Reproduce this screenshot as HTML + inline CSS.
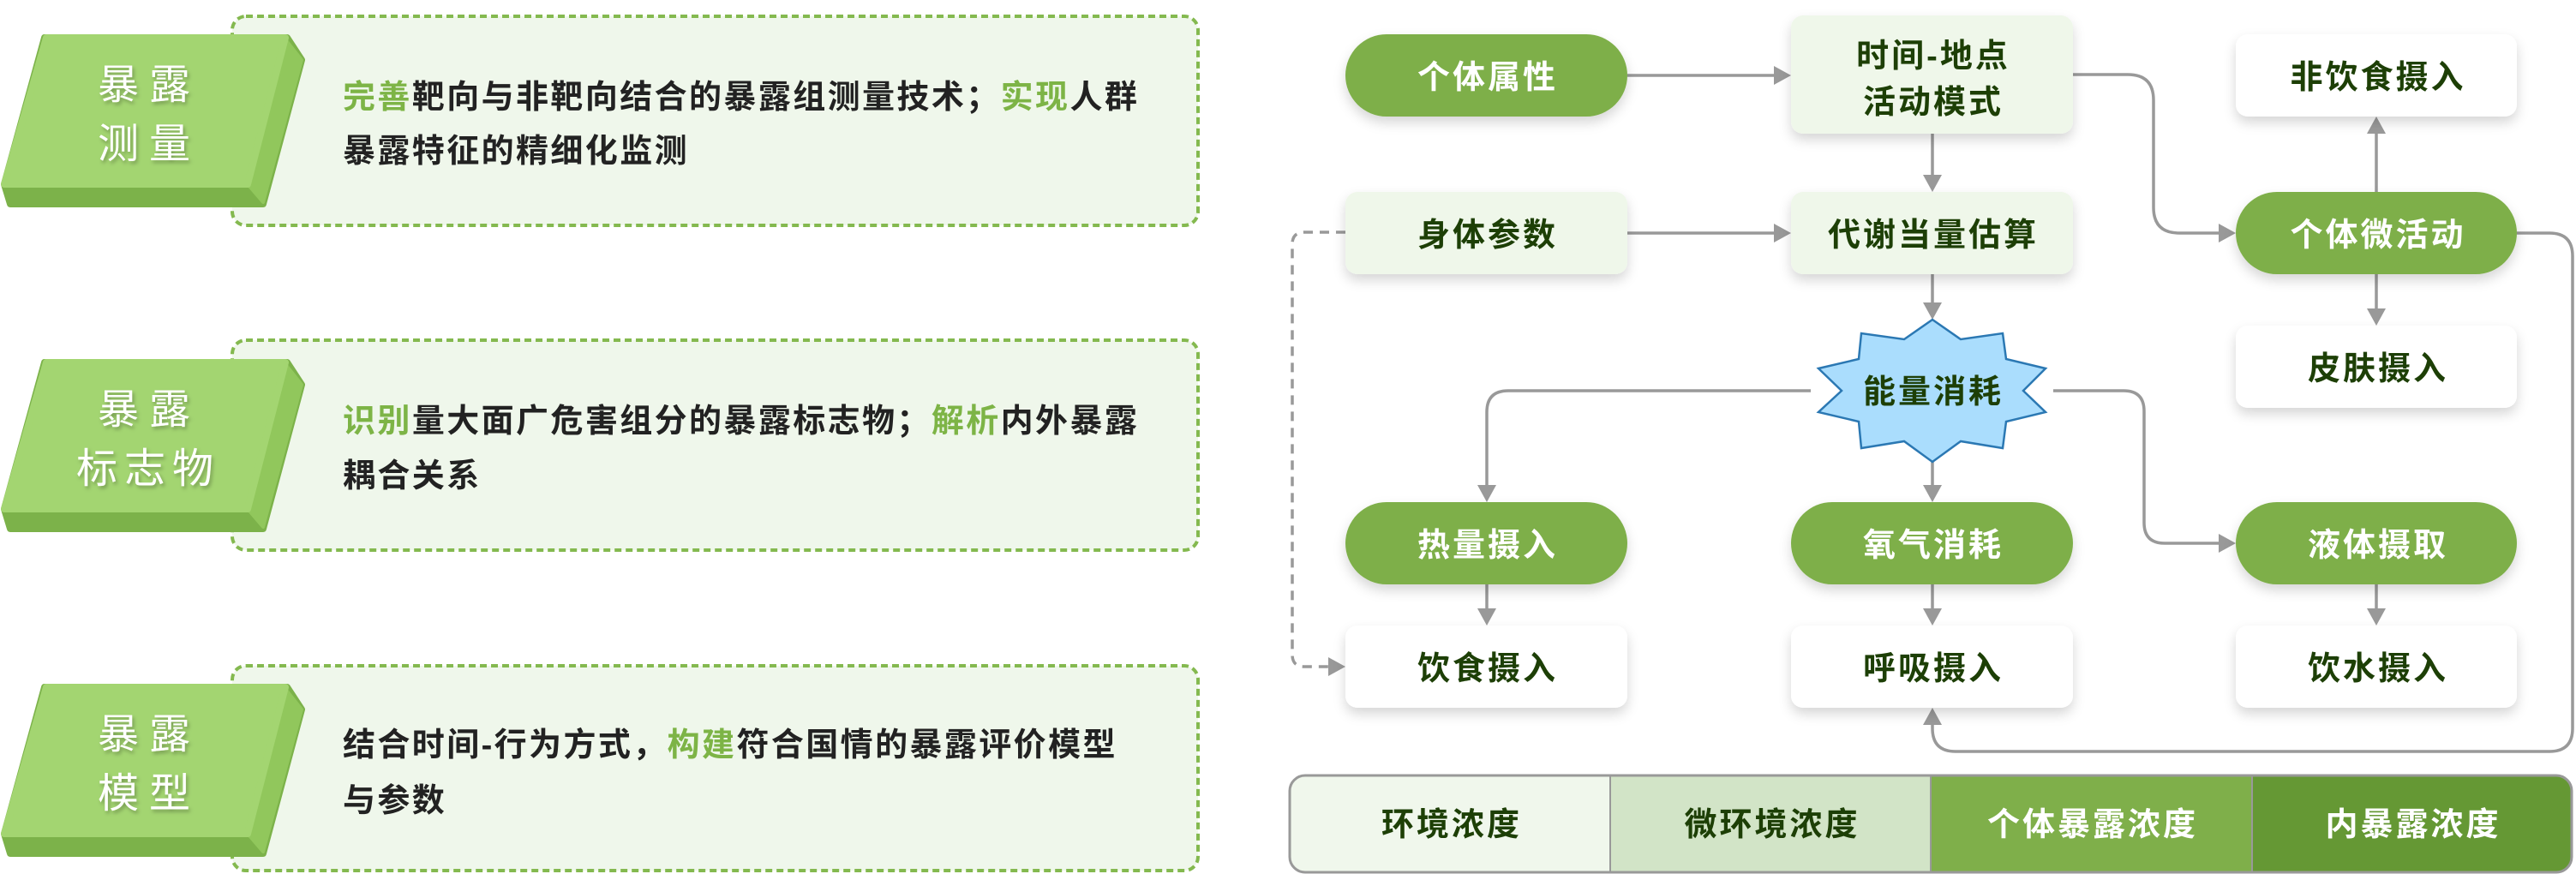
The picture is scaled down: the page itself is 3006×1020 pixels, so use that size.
<!DOCTYPE html>
<html>
<head>
<meta charset="utf-8">
<style>
  html, body { margin: 0; padding: 0; background: #ffffff; }
  body { width: 3006px; height: 1020px; overflow: hidden; }
  svg { display: block; }
  text { font-family: "Liberation Sans", "Noto Sans CJK SC", sans-serif; }
</style>
</head>
<body>
<svg width="3006" height="1020" viewBox="0 0 3006 1020" xmlns="http://www.w3.org/2000/svg">
  <defs>
    <filter id="nshadow" x="-20%" y="-30%" width="140%" height="180%">
      <feDropShadow dx="0" dy="7" stdDeviation="7" flood-color="#000" flood-opacity="0.16"/>
    </filter>
    <filter id="tshadow" x="-30%" y="-30%" width="160%" height="160%">
      <feDropShadow dx="2" dy="3" stdDeviation="2" flood-color="#000" flood-opacity="0.28"/>
    </filter>
    <clipPath id="barclip">
      <rect x="1505" y="905" width="1496" height="113" rx="18" ry="18"/>
    </clipPath>
  </defs>

  <!-- ============ LEFT PANELS ============ -->
  <!-- Panel 1 -->
  <rect x="271" y="19" width="1127" height="244" rx="16" ry="16" fill="#eff7eb" stroke="#84b94f" stroke-width="4" stroke-dasharray="8 5"/>
  <!-- Panel 2 -->
  <rect x="271" y="397" width="1127" height="245" rx="16" ry="16" fill="#eff7eb" stroke="#84b94f" stroke-width="4" stroke-dasharray="8 5"/>
  <!-- Panel 3 -->
  <rect x="271" y="777" width="1127" height="239" rx="16" ry="16" fill="#eff7eb" stroke="#84b94f" stroke-width="4" stroke-dasharray="8 5"/>

  <!-- Badge 1 (oy=44) -->
  <g stroke-linejoin="round">
    <polygon points="52,44 335,44 352,70 307,238 12,238 5,215" fill="#7cb24a" stroke="#7cb24a" stroke-width="8"/>
    <polygon points="333,46 352,70 307,236 289,215" fill="#91c75c" stroke="#91c75c" stroke-width="4"/>
    <polygon points="54,44 333,44 289,215 5,215" fill="#a3d571" stroke="#a3d571" stroke-width="8"/>
  </g>
  <g fill="#ffffff" font-size="48" text-anchor="middle" filter="url(#tshadow)">
    <text x="138" y="115">暴</text>
    <text x="198" y="115">露</text>
    <text x="138" y="184">测</text>
    <text x="198" y="184">量</text>
  </g>

  <!-- Badge 2 (oy=423) -->
  <g stroke-linejoin="round">
    <polygon points="52,423 335,423 352,449 307,617 12,617 5,594" fill="#7cb24a" stroke="#7cb24a" stroke-width="8"/>
    <polygon points="333,425 352,449 307,615 289,594" fill="#91c75c" stroke="#91c75c" stroke-width="4"/>
    <polygon points="54,423 333,423 289,594 5,594" fill="#a3d571" stroke="#a3d571" stroke-width="8"/>
  </g>
  <g fill="#ffffff" font-size="48" text-anchor="middle" filter="url(#tshadow)">
    <text x="138" y="494">暴</text>
    <text x="198" y="494">露</text>
    <text x="113" y="563">标</text>
    <text x="169" y="563">志</text>
    <text x="225" y="563">物</text>
  </g>

  <!-- Badge 3 (oy=802) -->
  <g stroke-linejoin="round">
    <polygon points="52,802 335,802 352,828 307,996 12,996 5,973" fill="#7cb24a" stroke="#7cb24a" stroke-width="8"/>
    <polygon points="333,804 352,828 307,994 289,973" fill="#91c75c" stroke="#91c75c" stroke-width="4"/>
    <polygon points="54,802 333,802 289,973 5,973" fill="#a3d571" stroke="#a3d571" stroke-width="8"/>
  </g>
  <g fill="#ffffff" font-size="48" text-anchor="middle" filter="url(#tshadow)">
    <text x="138" y="873">暴</text>
    <text x="198" y="873">露</text>
    <text x="138" y="942">模</text>
    <text x="198" y="942">型</text>
  </g>

  <!-- Description texts -->
  <g font-size="38" font-weight="bold" fill="#222222" letter-spacing="2.4">
    <text x="400" y="126"><tspan fill="#7db446">完善</tspan>靶向与非靶向结合的暴露组测量技术；<tspan fill="#7db446">实现</tspan>人群</text>
    <text x="400" y="189">暴露特征的精细化监测</text>
    <text x="400" y="504"><tspan fill="#7db446">识别</tspan>量大面广危害组分的暴露标志物；<tspan fill="#7db446">解析</tspan>内外暴露</text>
    <text x="400" y="568">耦合关系</text>
    <text x="400" y="882">结合时间-行为方式，<tspan fill="#7db446">构建</tspan>符合国情的暴露评价模型</text>
    <text x="400" y="947">与参数</text>
  </g>

  <!-- ============ FLOWCHART CONNECTORS ============ -->
  <g fill="none" stroke="#999999" stroke-width="3.5">
    <path d="M1899,88 H2072"/>
    <path d="M2255,156 V206"/>
    <path d="M1899,272 H2072"/>
    <path d="M2419,87 H2483 Q2513,87 2513,117 V242 Q2513,272 2543,272 H2591"/>
    <path d="M2773,224 V154"/>
    <path d="M2773,320 V362"/>
    <path d="M2255,320 V355"/>
    <path d="M2113,456 H1760 Q1735,456 1735,481 V568"/>
    <path d="M2396,456 H2478 Q2502,456 2502,480 V610 Q2502,634 2526,634 H2591"/>
    <path d="M2255,539 V568"/>
    <path d="M1735,682 V712"/>
    <path d="M2255,682 V712"/>
    <path d="M2773,682 V712"/>
    <path d="M2937,272 H2975 Q3002,272 3002,299 V850 Q3002,877 2975,877 H2282 Q2255,877 2255,850 V844"/>
    <path d="M1570,271 H1522 Q1508,271 1508,285 V764 Q1508,778 1522,778 H1552" stroke-dasharray="11 8"/>
  </g>
  <g fill="#999999">
    <polygon points="2070,77 2090,88 2070,99"/>
    <polygon points="2244,204 2255,224 2266,204"/>
    <polygon points="2070,261 2090,272 2070,283"/>
    <polygon points="2589,261 2609,272 2589,283"/>
    <polygon points="2762,156 2773,136 2784,156"/>
    <polygon points="2762,360 2773,380 2784,360"/>
    <polygon points="2244,353 2255,373 2266,353"/>
    <polygon points="1724,566 1735,586 1746,566"/>
    <polygon points="2589,623 2609,634 2589,645"/>
    <polygon points="2244,566 2255,586 2266,566"/>
    <polygon points="1724,710 1735,730 1746,710"/>
    <polygon points="2244,710 2255,730 2266,710"/>
    <polygon points="2762,710 2773,730 2784,710"/>
    <polygon points="2244,846 2255,826 2266,846"/>
    <polygon points="1550,767 1570,778 1550,789"/>
  </g>

  <!-- ============ FLOWCHART NODES ============ -->
  <g filter="url(#nshadow)">
    <!-- green pills -->
    <rect x="1570" y="40" width="329" height="96" rx="48" ry="48" fill="#7eaf4a"/>
    <rect x="2609" y="224" width="328" height="96" rx="48" ry="48" fill="#7eaf4a"/>
    <rect x="1570" y="586" width="329" height="96" rx="48" ry="48" fill="#7eaf4a"/>
    <rect x="2090" y="586" width="329" height="96" rx="48" ry="48" fill="#7eaf4a"/>
    <rect x="2609" y="586" width="328" height="96" rx="48" ry="48" fill="#7eaf4a"/>
    <!-- light boxes -->
    <rect x="2090" y="18" width="329" height="138" rx="14" ry="14" fill="#eff7ea"/>
    <rect x="1570" y="224" width="329" height="96" rx="14" ry="14" fill="#eff7ea"/>
    <rect x="2090" y="224" width="329" height="96" rx="14" ry="14" fill="#eff7ea"/>
    <!-- white boxes -->
    <rect x="2609" y="40" width="328" height="96" rx="14" ry="14" fill="#ffffff"/>
    <rect x="2609" y="380" width="328" height="96" rx="14" ry="14" fill="#ffffff"/>
    <rect x="1570" y="730" width="329" height="96" rx="14" ry="14" fill="#ffffff"/>
    <rect x="2090" y="730" width="329" height="96" rx="14" ry="14" fill="#ffffff"/>
    <rect x="2609" y="730" width="328" height="96" rx="14" ry="14" fill="#ffffff"/>
  </g>

  <!-- starburst -->
  <polygon points="2255,373 2288,396 2337,389 2341,419 2387,430 2361,456 2387,481 2341,492 2337,523 2288,515 2255,539 2222,515 2172,523 2169,492 2122,481 2149,456 2122,430 2169,419 2172,389 2222,396"
           fill="#aaddfd" stroke="#2b78b3" stroke-width="2.5" stroke-linejoin="miter"/>

  <!-- node texts -->
  <g font-size="38" font-weight="bold" text-anchor="middle" letter-spacing="3">
    <g fill="#ffffff">
      <text x="1736" y="103">个体属性</text>
      <text x="2775" y="287">个体微活动</text>
      <text x="1736" y="649">热量摄入</text>
      <text x="2256" y="649">氧气消耗</text>
      <text x="2775" y="649">液体摄取</text>
    </g>
    <g fill="#1d3f06">
      <text x="2256" y="78">时间-地点</text>
      <text x="2256" y="132">活动模式</text>
      <text x="2775" y="103">非饮食摄入</text>
      <text x="1736" y="287">身体参数</text>
      <text x="2256" y="287">代谢当量估算</text>
      <text x="2775" y="443">皮肤摄入</text>
      <text x="2256" y="470">能量消耗</text>
      <text x="1736" y="793">饮食摄入</text>
      <text x="2256" y="793">呼吸摄入</text>
      <text x="2775" y="793">饮水摄入</text>
    </g>
  </g>

  <!-- ============ BOTTOM BAR ============ -->
  <g clip-path="url(#barclip)">
    <rect x="1505" y="905" width="374" height="113" fill="#f0f7ec"/>
    <rect x="1879" y="905" width="374" height="113" fill="#d2e4c7"/>
    <rect x="2253" y="905" width="375" height="113" fill="#7faf4a"/>
    <rect x="2628" y="905" width="373" height="113" fill="#659834"/>
  </g>
  <g stroke="#999999" stroke-width="2">
    <line x1="1879" y1="905" x2="1879" y2="1018"/>
    <line x1="2253" y1="905" x2="2253" y2="1018"/>
    <line x1="2628" y1="905" x2="2628" y2="1018"/>
  </g>
  <rect x="1505" y="905" width="1496" height="113" rx="18" ry="18" fill="none" stroke="#999999" stroke-width="3"/>
  <g font-size="38" font-weight="bold" text-anchor="middle" letter-spacing="3">
    <text x="1694" y="975" fill="#1d3f06">环境浓度</text>
    <text x="2068" y="975" fill="#1d3f06">微环境浓度</text>
    <text x="2442" y="975" fill="#ffffff">个体暴露浓度</text>
    <text x="2816" y="975" fill="#ffffff">内暴露浓度</text>
  </g>
</svg>
</body>
</html>
